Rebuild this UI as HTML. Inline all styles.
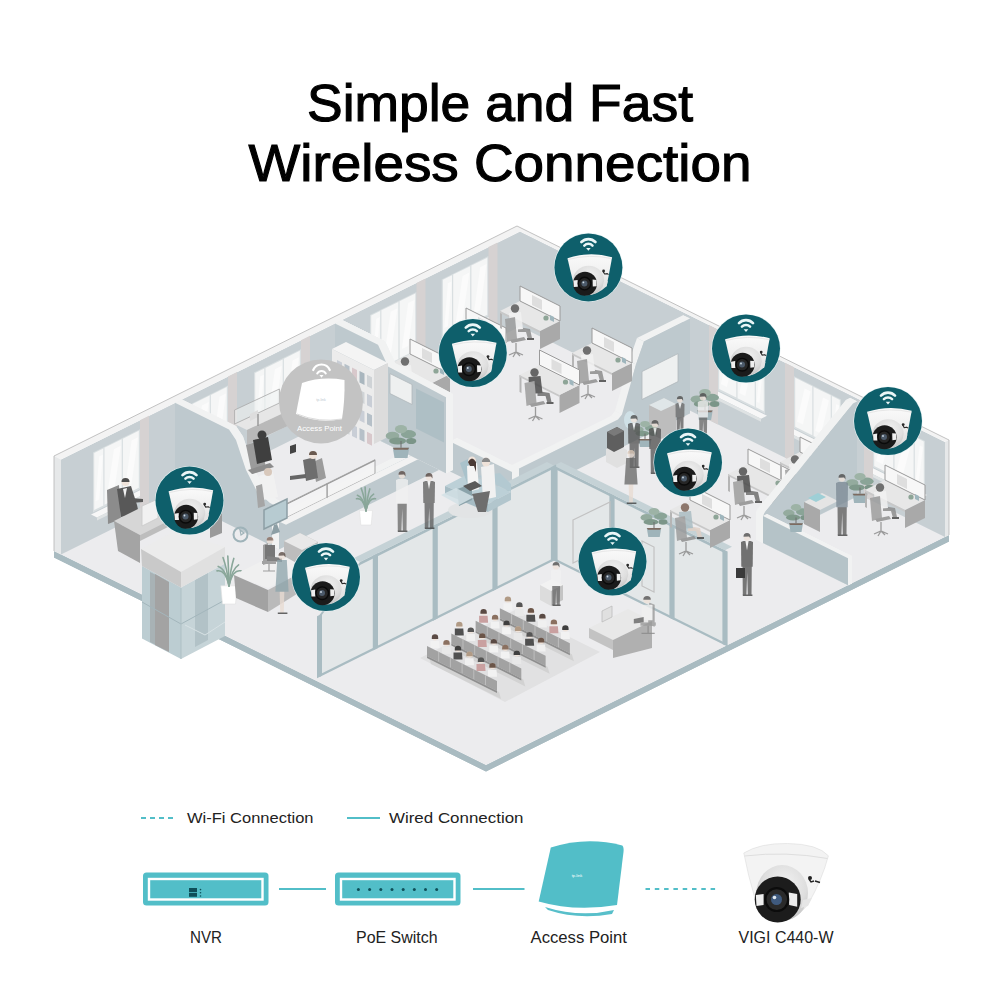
<!DOCTYPE html>
<html><head><meta charset="utf-8">
<style>
html,body{margin:0;padding:0;background:#fff;width:1000px;height:1000px;overflow:hidden;}
svg{display:block;}
</style></head>
<body>
<svg width="1000" height="1000" viewBox="0 0 1000 1000">
<defs>
<linearGradient id="domeg" x1="0" y1="0" x2="0" y2="1">
  <stop offset="0" stop-color="#fafafa"/>
  <stop offset="0.45" stop-color="#f0f0f0"/>
  <stop offset="1" stop-color="#d8d8d8"/>
</linearGradient>
<radialGradient id="recg" cx="0.55" cy="0.35" r="0.7">
  <stop offset="0" stop-color="#f2f2f2"/>
  <stop offset="0.6" stop-color="#dedede"/>
  <stop offset="1" stop-color="#bdbdbd"/>
</radialGradient>
<symbol id="cam" viewBox="-35 -35 70 70" overflow="visible">
  <circle r="34.6" fill="#e6f3f4"/>
  <circle r="34" fill="#0e5f6b"/>
  <path d="M -7,-25.4 A 9.8 9.8 0 0 1 7,-25.4" fill="none" stroke="#eaf6f7" stroke-width="2.7" stroke-linecap="round"/>
  <path d="M -4.1,-21.8 A 5.6 5.6 0 0 1 4.1,-21.8" fill="none" stroke="#eaf6f7" stroke-width="2.5" stroke-linecap="round"/>
  <path d="M -2.3,-19.3 L 2.3,-19.3 L 0,-16.6 Z" fill="#eaf6f7"/>
  <path d="M -20.9,-9.2 Q 1.3,-16.5 23.7,-10.2 Q 21,5 18.2,18.8 Q 8,28.5 -3.3,27.8 Q -11,24 -14.4,17.8 Q -18,4 -20.9,-9.2 Z" fill="url(#domeg)"/>
  <path d="M -20.6,-7.8 Q 1.3,-13.8 23.4,-8.8" fill="none" stroke="#e2e2e2" stroke-width="0.8"/>
  <ellipse cx="0.2" cy="12.8" rx="15.5" ry="14.5" fill="url(#recg)"/>
  <path d="M 15.4,14.5 L 19.5,13.5 L 18.2,18.8 L 14.5,19.5 Z" fill="#e4e4e4"/>
  <circle cx="-3.4" cy="16.3" r="12" fill="#1b1b1b"/>
  <path d="M -15,13.2 L -10.8,12.6 L -10.6,19.4 L -14.6,19.6 Z" fill="#efefef"/>
  <path d="M 4.2,12.2 L 8.2,12.6 L 8.2,18.8 L 4.4,19.2 Z" fill="#efefef"/>
  <circle cx="-3.8" cy="16.2" r="6.3" fill="#262626" stroke="#0a0a0a" stroke-width="1.4"/>
  <circle cx="-4" cy="16" r="3" fill="#4c5a6a"/>
  <circle cx="-5" cy="15" r="0.9" fill="#d0dce4"/>
  <circle cx="15.2" cy="3.6" r="1.4" fill="#2a2a2a"/>
  <path d="M 14.6,4 l 1.6,2.6 l 2.8,-0.4 m -0.6,0 l 1.8,0.8" fill="none" stroke="#2a2a2a" stroke-width="1.1"/>
</symbol>
</defs>
<rect width="1000" height="1000" fill="#fff"/>

<text x="500" y="121" text-anchor="middle" font-family="Liberation Sans, sans-serif" font-size="52" fill="#000" stroke="#000" stroke-width="1.1" textLength="386" lengthAdjust="spacingAndGlyphs">Simple and Fast</text>
<text x="500" y="181" text-anchor="middle" font-family="Liberation Sans, sans-serif" font-size="52" fill="#000" stroke="#000" stroke-width="1.1" textLength="503" lengthAdjust="spacingAndGlyphs">Wireless Connection</text>

<g id="building">
<polygon points="54.0,551.0 486.0,765.0 949.0,535.0 949.0,541.5 486.0,771.5 54.0,557.5" fill="#a9bbc1" />
<polygon points="486.0,765.0 949.0,535.0 949.0,541.5 486.0,771.5" fill="#a9bbc1" />
<polygon points="54.0,551.0 486.0,765.0 486.0,771.5 54.0,557.5" fill="#a9bbc1" />
<polygon points="54.0,551.0 517.0,321.0 949.0,535.0 486.0,765.0" fill="#ececee" />
<polygon points="61.0,554.5 520.0,326.5 520.0,231.5 61.0,459.5" fill="#c7cfd3" />
<polygon points="520.0,326.5 945.0,537.0 945.0,442.0 520.0,231.5" fill="#c7cfd3" />
<polygon points="54.0,456.0 517.0,226.0 524.0,229.5 61.0,459.5" fill="#f3f3f3" />
<polygon points="513.0,228.0 517.0,226.0 949.0,440.0 945.0,442.0" fill="#f3f3f3" />
<polygon points="54.0,551.0 61.0,554.5 61.0,459.5 54.0,456.0" fill="#e6e8e9" />
<polygon points="945.0,537.0 949.0,535.0 949.0,440.0 945.0,442.0" fill="#e6e8e9" />
<polygon points="93.0,512.6 140.0,489.2 140.0,429.2 93.0,452.6" fill="#d9dfe1" />
<polygon points="94.2,510.0 103.3,505.4 103.3,448.4 94.2,453.0" fill="#f5f6f6" />
<polygon points="95.6,501.3 99.2,499.5 102.9,454.7 99.2,456.5" fill="#fbfbfb" />
<polygon points="104.5,504.8 121.7,496.3 121.7,439.3 104.5,447.8" fill="#f5f6f6" />
<polygon points="107.1,495.6 114.0,492.2 120.8,445.8 114.0,449.2" fill="#fbfbfb" />
<polygon points="122.9,495.7 138.8,487.8 138.8,430.8 122.9,438.7" fill="#f5f6f6" />
<polygon points="125.3,486.5 131.6,483.4 138.0,437.2 131.6,440.4" fill="#fbfbfb" />
<polygon points="91.0,514.6 142.0,489.2 148.0,492.2 97.0,517.5" fill="#f7f7f7" />
<polygon points="97.0,517.5 148.0,492.2 148.0,495.2 97.0,520.5" fill="#dfe3e4" />
<polygon points="140.0,515.2 149.0,510.8 149.0,415.8 140.0,420.2" fill="#d6d2d2" />
<polygon points="181.0,468.9 228.0,445.5 228.0,385.5 181.0,408.9" fill="#d9dfe1" />
<polygon points="182.2,466.3 191.3,461.7 191.3,404.7 182.2,409.3" fill="#f5f6f6" />
<polygon points="183.6,457.6 187.2,455.8 190.9,410.9 187.2,412.8" fill="#fbfbfb" />
<polygon points="192.5,461.1 209.7,452.6 209.7,395.6 192.5,404.1" fill="#f5f6f6" />
<polygon points="195.1,451.8 202.0,448.4 208.8,402.0 202.0,405.4" fill="#fbfbfb" />
<polygon points="210.9,452.0 226.8,444.1 226.8,387.1 210.9,395.0" fill="#f5f6f6" />
<polygon points="213.3,442.8 219.6,439.7 226.0,393.5 219.6,396.7" fill="#fbfbfb" />
<polygon points="179.0,470.9 230.0,445.5 236.0,448.5 185.0,473.8" fill="#f7f7f7" />
<polygon points="185.0,473.8 236.0,448.5 236.0,451.5 185.0,476.8" fill="#dfe3e4" />
<polygon points="228.0,471.5 237.0,467.0 237.0,372.0 228.0,376.5" fill="#d6d2d2" />
<polygon points="254.0,432.6 301.0,409.2 301.0,349.2 254.0,372.6" fill="#d9dfe1" />
<polygon points="255.2,430.0 264.3,425.5 264.3,368.5 255.2,373.0" fill="#f5f6f6" />
<polygon points="256.6,421.3 260.2,419.5 263.9,374.7 260.2,376.5" fill="#fbfbfb" />
<polygon points="265.5,424.9 282.7,416.4 282.7,359.4 265.5,367.9" fill="#f5f6f6" />
<polygon points="268.1,415.6 275.0,412.2 281.8,365.8 275.0,369.2" fill="#fbfbfb" />
<polygon points="283.9,415.8 299.8,407.8 299.8,350.8 283.9,358.8" fill="#f5f6f6" />
<polygon points="286.3,406.6 292.6,403.4 299.0,357.2 292.6,360.4" fill="#fbfbfb" />
<polygon points="252.0,434.6 303.0,409.3 309.0,412.2 258.0,437.6" fill="#f7f7f7" />
<polygon points="258.0,437.6 309.0,412.2 309.0,415.2 258.0,440.6" fill="#dfe3e4" />
<polygon points="301.0,435.2 310.0,430.8 310.0,335.8 301.0,340.2" fill="#d6d2d2" />
<polygon points="370.0,375.0 416.5,351.9 416.5,291.9 370.0,315.0" fill="#d9dfe1" />
<polygon points="371.2,372.4 380.2,367.9 380.2,310.9 371.2,315.4" fill="#f5f6f6" />
<polygon points="372.6,363.7 376.2,361.9 379.8,317.1 376.2,318.9" fill="#fbfbfb" />
<polygon points="381.4,367.3 398.4,358.9 398.4,301.9 381.4,310.3" fill="#f5f6f6" />
<polygon points="384.0,358.0 390.7,354.7 397.5,308.3 390.7,311.7" fill="#fbfbfb" />
<polygon points="399.6,358.3 415.3,350.5 415.3,293.5 399.6,301.3" fill="#f5f6f6" />
<polygon points="401.9,349.1 408.2,346.0 414.5,299.9 408.2,303.0" fill="#fbfbfb" />
<polygon points="368.0,377.0 418.5,351.9 424.5,354.9 374.0,379.9" fill="#f7f7f7" />
<polygon points="374.0,379.9 424.5,354.9 424.5,357.9 374.0,382.9" fill="#dfe3e4" />
<polygon points="416.5,377.9 425.5,373.4 425.5,278.4 416.5,282.9" fill="#d6d2d2" />
<polygon points="441.7,339.4 488.5,316.1 488.5,256.1 441.7,279.4" fill="#d9dfe1" />
<polygon points="442.9,336.8 452.0,332.2 452.0,275.2 442.9,279.8" fill="#f5f6f6" />
<polygon points="444.3,328.1 447.9,326.3 451.5,281.5 447.9,283.3" fill="#fbfbfb" />
<polygon points="453.2,331.6 470.2,323.2 470.2,266.2 453.2,274.6" fill="#f5f6f6" />
<polygon points="455.8,322.4 462.6,319.0 469.4,272.6 462.6,276.0" fill="#fbfbfb" />
<polygon points="471.4,322.6 487.3,314.7 487.3,257.7 471.4,265.6" fill="#f5f6f6" />
<polygon points="473.8,313.4 480.2,310.2 486.5,264.1 480.2,267.2" fill="#fbfbfb" />
<polygon points="439.7,341.3 490.5,316.1 496.5,319.1 445.7,344.3" fill="#f7f7f7" />
<polygon points="445.7,344.3 496.5,319.1 496.5,322.1 445.7,347.3" fill="#dfe3e4" />
<polygon points="488.5,342.1 497.5,337.6 497.5,242.6 488.5,247.1" fill="#d6d2d2" />
<polygon points="718.0,390.5 765.0,413.8 765.0,361.8 718.0,338.5" fill="#d9dfe1" />
<polygon points="719.2,389.1 736.3,397.6 736.3,348.6 719.2,340.1" fill="#f5f6f6" />
<polygon points="720.9,384.0 726.9,387.0 734.6,353.8 728.6,350.8" fill="#fbfbfb" />
<polygon points="737.5,398.2 754.7,406.7 754.7,357.7 737.5,349.2" fill="#f5f6f6" />
<polygon points="739.2,393.1 745.2,396.0 752.9,362.8 747.0,359.9" fill="#fbfbfb" />
<polygon points="755.9,407.3 763.8,411.2 763.8,362.2 755.9,358.3" fill="#f5f6f6" />
<polygon points="756.7,401.7 759.4,403.1 763.0,367.8 760.2,366.5" fill="#fbfbfb" />
<polygon points="716.0,390.5 767.0,415.8 761.0,418.8 710.0,393.5" fill="#f7f7f7" />
<polygon points="710.0,393.5 761.0,418.8 761.0,421.8 710.0,396.5" fill="#dfe3e4" />
<polygon points="709.0,420.1 718.0,424.5 718.0,329.5 709.0,325.1" fill="#d6d2d2" />
<polygon points="794.0,428.2 841.0,451.5 841.0,399.5 794.0,376.2" fill="#d9dfe1" />
<polygon points="795.2,426.8 812.3,435.3 812.3,386.3 795.2,377.8" fill="#f5f6f6" />
<polygon points="796.9,421.6 802.9,424.6 810.6,391.4 804.6,388.4" fill="#fbfbfb" />
<polygon points="813.5,435.9 830.7,444.3 830.7,395.3 813.5,386.9" fill="#f5f6f6" />
<polygon points="815.2,430.7 821.2,433.7 828.9,400.5 823.0,397.5" fill="#fbfbfb" />
<polygon points="831.9,444.9 839.8,448.9 839.8,399.9 831.9,395.9" fill="#f5f6f6" />
<polygon points="832.7,439.3 835.4,440.7 839.0,405.5 836.2,404.1" fill="#fbfbfb" />
<polygon points="792.0,428.2 843.0,453.5 837.0,456.4 786.0,431.2" fill="#f7f7f7" />
<polygon points="786.0,431.2 837.0,456.4 837.0,459.4 786.0,434.2" fill="#dfe3e4" />
<polygon points="785.0,457.7 794.0,462.2 794.0,367.2 785.0,362.7" fill="#d6d2d2" />
<polygon points="873.0,467.3 925.0,493.1 925.0,441.1 873.0,415.3" fill="#d9dfe1" />
<polygon points="874.2,465.9 893.3,475.4 893.3,426.4 874.2,416.9" fill="#f5f6f6" />
<polygon points="876.1,460.9 882.8,464.2 891.4,431.4 884.7,428.1" fill="#fbfbfb" />
<polygon points="894.5,476.0 913.6,485.4 913.6,436.4 894.5,427.0" fill="#f5f6f6" />
<polygon points="896.4,470.9 903.1,474.2 911.7,441.5 905.0,438.2" fill="#fbfbfb" />
<polygon points="914.8,486.0 923.8,490.5 923.8,441.5 914.8,437.0" fill="#f5f6f6" />
<polygon points="915.7,480.5 918.8,482.0 922.9,447.0 919.7,445.5" fill="#fbfbfb" />
<polygon points="871.0,467.3 927.0,495.1 921.0,498.0 865.0,470.3" fill="#f7f7f7" />
<polygon points="865.0,470.3 921.0,498.0 921.0,501.0 865.0,473.3" fill="#dfe3e4" />
<polygon points="864.0,496.9 873.0,501.3 873.0,406.3 864.0,401.9" fill="#d6d2d2" />
<polygon points="182.0,494.4 182.0,399.4 236.0,426.1 243.0,436.6 253.0,466.5 264.0,488.0 277.0,499.4 286.0,503.9 286.0,545.9" fill="#f1f2f2" />
<polygon points="175.0,497.8 175.0,402.8 182.0,399.4 182.0,494.4" fill="#f1f2f2" />
<polygon points="175.0,402.8 229.0,429.6 236.0,426.1 182.0,399.4" fill="#f1f2f2" />
<polygon points="229.0,429.6 236.0,440.1 243.0,436.6 236.0,426.1" fill="#f1f2f2" />
<polygon points="236.0,440.1 246.0,470.0 253.0,466.5 243.0,436.6" fill="#f1f2f2" />
<polygon points="246.0,470.0 257.0,491.5 264.0,488.0 253.0,466.5" fill="#f1f2f2" />
<polygon points="257.0,491.5 270.0,502.9 277.0,499.4 264.0,488.0" fill="#f1f2f2" />
<polygon points="270.0,502.9 279.0,507.4 286.0,503.9 277.0,499.4" fill="#f1f2f2" />
<polygon points="279.0,507.4 279.0,549.4 286.0,545.9 286.0,503.9" fill="#f1f2f2" />
<polygon points="279.0,549.4 175.0,497.8 182.0,494.4 286.0,545.9" fill="#f1f2f2" />
<polygon points="175.0,497.8 175.0,402.8 229.0,429.6 236.0,440.1 246.0,470.0 257.0,491.5 270.0,502.9 279.0,507.4 279.0,549.4" fill="#bec9ce" />
<polygon points="342.0,414.9 342.0,319.9 385.0,341.2 395.0,363.1 453.0,393.9 453.0,469.9" fill="#f1f2f2" />
<polygon points="335.0,418.4 335.0,323.4 342.0,319.9 342.0,414.9" fill="#f1f2f2" />
<polygon points="335.0,323.4 378.0,344.7 385.0,341.2 342.0,319.9" fill="#f1f2f2" />
<polygon points="378.0,344.7 388.0,366.6 395.0,363.1 385.0,341.2" fill="#f1f2f2" />
<polygon points="388.0,366.6 446.0,397.3 453.0,393.9 395.0,363.1" fill="#f1f2f2" />
<polygon points="446.0,397.3 446.0,473.3 453.0,469.9 453.0,393.9" fill="#f1f2f2" />
<polygon points="446.0,473.3 335.0,418.4 342.0,414.9 453.0,469.9" fill="#f1f2f2" />
<polygon points="335.0,418.4 335.0,323.4 378.0,344.7 388.0,366.6 446.0,397.3 446.0,473.3" fill="#bec9ce" />
<polygon points="390.0,373.6 412.0,384.5 412.0,404.5 390.0,393.6" fill="#eef0f0" stroke="#b0b8bb" stroke-width="0.8"/>
<polygon points="416.0,388.5 444.0,402.4 444.0,442.4 416.0,428.5" fill="#aebfc5" />
<polygon points="690.0,413.6 690.0,318.6 683.0,315.2 683.0,410.2" fill="#f1f2f2" />
<polygon points="690.0,318.6 644.0,341.5 637.0,338.0 683.0,315.2" fill="#f1f2f2" />
<polygon points="644.0,341.5 636.0,364.5 629.0,361.0 637.0,338.0" fill="#f1f2f2" />
<polygon points="636.0,364.5 622.0,414.4 615.0,411.0 629.0,361.0" fill="#f1f2f2" />
<polygon points="622.0,414.4 618.0,419.4 611.0,415.9 615.0,411.0" fill="#f1f2f2" />
<polygon points="618.0,419.4 512.0,472.1 505.0,468.6 611.0,415.9" fill="#f1f2f2" />
<polygon points="512.0,472.1 512.0,502.1 505.0,498.6 505.0,468.6" fill="#f1f2f2" />
<polygon points="512.0,502.1 690.0,413.6 683.0,410.2 505.0,498.6" fill="#f1f2f2" />
<polygon points="690.0,413.6 690.0,318.6 644.0,341.5 636.0,364.5 622.0,414.4 618.0,419.4 512.0,472.1 512.0,502.1" fill="#bec9ce" />
<polygon points="642.0,371.5 678.0,353.6 678.0,381.6 642.0,399.5" fill="#eef0f0" stroke="#b0b8bb" stroke-width="0.8"/>
<polygon points="457.0,467.9 457.0,437.9 519.0,468.6 519.0,498.6" fill="#f1f2f2" />
<polygon points="450.0,471.4 450.0,441.4 457.0,437.9 457.0,467.9" fill="#f1f2f2" />
<polygon points="450.0,441.4 512.0,472.1 519.0,468.6 457.0,437.9" fill="#f1f2f2" />
<polygon points="512.0,472.1 512.0,502.1 519.0,498.6 519.0,468.6" fill="#f1f2f2" />
<polygon points="512.0,502.1 450.0,471.4 457.0,467.9 519.0,498.6" fill="#f1f2f2" />
<polygon points="450.0,471.4 450.0,441.4 512.0,472.1 512.0,502.1" fill="#bec9ce" />
<polygon points="279.0,549.4 279.0,521.4 272.0,517.9 272.0,545.9" fill="#f1f2f2" />
<polygon points="279.0,521.4 443.0,439.9 436.0,436.4 272.0,517.9" fill="#f1f2f2" />
<polygon points="443.0,439.9 443.0,467.9 436.0,464.4 436.0,436.4" fill="#f1f2f2" />
<polygon points="443.0,467.9 279.0,549.4 272.0,545.9 436.0,464.4" fill="#f1f2f2" />
<polygon points="279.0,549.4 279.0,521.4 443.0,439.9 443.0,467.9" fill="#bec9ce" />
<polygon points="857.0,496.4 857.0,401.4 850.0,397.9 850.0,492.9" fill="#f1f2f2" />
<polygon points="857.0,401.4 853.0,403.4 846.0,399.9 850.0,397.9" fill="#f1f2f2" />
<polygon points="853.0,403.4 765.0,512.1 758.0,508.6 846.0,399.9" fill="#f1f2f2" />
<polygon points="765.0,512.1 763.0,516.1 756.0,512.6 758.0,508.6" fill="#f1f2f2" />
<polygon points="763.0,516.1 763.0,543.1 756.0,539.6 756.0,512.6" fill="#f1f2f2" />
<polygon points="763.0,543.1 857.0,496.4 850.0,492.9 756.0,539.6" fill="#f1f2f2" />
<polygon points="857.0,496.4 857.0,401.4 853.0,403.4 765.0,512.1 763.0,516.1 763.0,543.1" fill="#bec9ce" />
<polygon points="767.0,541.1 767.0,514.1 852.0,556.2 852.0,583.2" fill="#f1f2f2" />
<polygon points="763.0,543.1 763.0,516.1 767.0,514.1 767.0,541.1" fill="#f1f2f2" />
<polygon points="763.0,516.1 848.0,558.2 852.0,556.2 767.0,514.1" fill="#f1f2f2" />
<polygon points="848.0,558.2 848.0,585.2 852.0,583.2 852.0,556.2" fill="#f1f2f2" />
<polygon points="848.0,585.2 763.0,543.1 767.0,541.1 852.0,583.2" fill="#f1f2f2" />
<polygon points="763.0,543.1 763.0,516.1 848.0,558.2 848.0,585.2" fill="#b5c3c8" />
<polygon points="554.0,560.6 725.0,645.3 725.0,550.3 554.0,465.6" fill="#e3e7e8" />
<polygon points="552.4,559.8 557.6,562.4 557.6,467.4 552.4,464.8" fill="#a9bcc2" />
<polygon points="609.4,588.0 614.6,590.6 614.6,495.6 609.4,493.0" fill="#a9bcc2" />
<polygon points="669.4,617.7 674.6,620.3 674.6,525.3 669.4,522.7" fill="#a9bcc2" />
<polygon points="722.4,644.0 727.6,646.6 727.6,551.6 722.4,549.0" fill="#a9bcc2" />
<polygon points="554.0,465.6 725.0,550.3 725.0,553.3 554.0,468.6" fill="#a9bcc2" />
<polygon points="554.0,465.6 561.0,462.1 732.0,546.8 725.0,550.3" fill="#c5d2d6" />
<polygon points="554.0,560.6 725.0,645.3 725.0,642.8 554.0,558.1" fill="#a9bcc2" />
<polygon points="319.5,677.1 554.0,560.6 554.0,465.6 360.0,561.9 319.5,615.1" fill="#e3e7e8" />
<polygon points="372.8,650.6 378.0,648.0 378.0,553.0 372.8,555.6" fill="#a9bcc2" />
<polygon points="432.6,620.9 437.8,618.3 437.8,523.3 432.6,525.9" fill="#a9bcc2" />
<polygon points="492.4,591.2 497.6,588.6 497.6,493.6 492.4,496.2" fill="#a9bcc2" />
<polygon points="550.9,562.1 556.1,559.5 556.1,464.5 550.9,467.1" fill="#a9bcc2" />
<polygon points="317.0,678.3 322.0,675.8 322.0,613.8 317.0,616.3" fill="#a9bcc2" />
<polygon points="360.0,561.9 554.0,465.6 554.0,468.6 360.0,564.9" fill="#a9bcc2" />
<polygon points="360.0,561.9 554.0,465.6 547.0,462.1 353.0,558.5" fill="#c5d2d6" />
<polygon points="319.5,615.1 360.0,561.9 360.0,564.9 319.5,618.1" fill="#a9bcc2" />
<polygon points="319.5,677.1 554.0,560.6 554.0,558.1 319.5,674.6" fill="#a9bcc2" />

<polygon points="142,566 181,587.5 181,659 142,638.5" fill="#bccdd2"/>
<polygon points="181,587.5 225,563.5 225,636 181,659" fill="#c6d4d8"/>
<polygon points="150,572 160,577 160,647 150,642" fill="#a8b2b5"/>
<polygon points="155,574 169,582 169,652 155,645" fill="#a3a3a3"/>
<polygon points="195,580 208,573 208,640 195,647" fill="#b2c2c7"/>
<polyline points="142,602 181,624 225,600" fill="none" stroke="#a3b6bc" stroke-width="1"/>
<polyline points="185,625 205,635 225,622" fill="none" stroke="#d8e2e5" stroke-width="1"/>
<line x1="181" y1="588" x2="181" y2="659" stroke="#aebfc4" stroke-width="1"/>
<polygon points="141,549 175,531 225,547 181,572" fill="#ececec"/>
<polygon points="141,549 181,572 181,587.5 142,566" fill="#c9c9c9"/>
<polygon points="181,572 225,547 225,563.5 181,587.5" fill="#e0e0e0"/>

<polygon points="107.0,490.0 119.0,485.0 121.0,519.0 108.0,524.0" fill="#8c8c8c" />
<polygon points="117.0,489.0 131.0,486.0 137.0,505.0 139.0,514.0 121.0,517.0" fill="#585858" />
<polygon points="123.0,489.0 127.0,488.0 125.0,498.0" fill="#f2f2f2" />
<polygon points="131.0,498.0 143.0,499.0 143.0,502.0 131.0,503.0" fill="#585858" />
<circle cx="125.5" cy="482.0" r="4.0" fill="#efe3da" />
<path d="M 121.5,482 a 4 4 0 0 1 8,0 z" fill="#4e4e4e"/>
<polygon points="114.0,521.0 150.0,503.0 178.0,516.0 140.0,535.0" fill="#d6d6d6" />
<polygon points="114.0,521.0 140.0,535.0 140.0,563.0 118.0,551.0" fill="#a4a4a4" />
<polygon points="140.0,535.0 178.0,516.0 178.0,522.0 140.0,541.0" fill="#bdbdbd" />
<polygon points="142.0,506.0 158.0,499.0 158.0,518.0 142.0,526.0" fill="#f1f1f1" stroke="#c9c9c9" stroke-width="0.8"/>
<polygon points="210.0,518.0 222.0,512.0 222.0,533.0 210.0,538.0" fill="#9a9a9a" />
<circle cx="240.5" cy="534.5" r="7.0" fill="none" stroke="#9fb3b9" stroke-width="2"/>
<polygon points="240.0,530.0 241.0,535.0 244.0,533.0" fill="none" stroke="#9fb3b9" stroke-width="1.2"/>
<polygon points="220.8,585.8 237.2,585.8 235.5,604.0 222.5,604.0" fill="#ffffff" stroke="#e0e0e0" stroke-width="0.6"/>
<path d="M 229.0,585.8 Q 225.8,569.0 218.2,566.4" stroke="#8aa79a" stroke-width="1.6" fill="none" stroke-linecap="round"/>
<path d="M 229.0,585.8 Q 227.2,569.0 223.0,557.5" stroke="#8aa79a" stroke-width="1.6" fill="none" stroke-linecap="round"/>
<path d="M 229.0,585.8 Q 228.6,569.0 227.8,556.0" stroke="#8aa79a" stroke-width="1.6" fill="none" stroke-linecap="round"/>
<path d="M 229.0,585.8 Q 230.4,569.0 233.8,558.4" stroke="#8aa79a" stroke-width="1.6" fill="none" stroke-linecap="round"/>
<path d="M 229.0,585.8 Q 231.9,569.0 238.6,564.9" stroke="#8aa79a" stroke-width="1.6" fill="none" stroke-linecap="round"/>
<path d="M 229.0,585.8 Q 225.4,569.0 217.0,570.9" stroke="#8aa79a" stroke-width="1.6" fill="none" stroke-linecap="round"/>
<path d="M 229.0,585.8 Q 232.6,569.0 241.0,570.9" stroke="#8aa79a" stroke-width="1.6" fill="none" stroke-linecap="round"/>
<polygon points="234.0,575.0 280.0,552.0 300.0,562.0 300.0,572.0 268.0,588.0" fill="#f0f0f0" />
<polygon points="234.0,575.0 268.0,590.0 268.0,612.0 236.0,598.0" fill="#a2a2a2" />
<polygon points="268.0,590.0 300.0,573.0 300.0,592.0 268.0,612.0" fill="#bababa" />
<polygon points="284.0,541.0 300.0,533.0 318.0,542.0 318.0,556.0 300.0,565.0 284.0,556.0" fill="#bdbdbd" />
<polygon points="284.0,541.0 300.0,533.0 318.0,542.0 302.0,550.0" fill="#e8e8e8" />
<g opacity="0.8">
<polygon points="263.0,545.0 268.0,543.0 269.0,563.0 263.0,565.0" fill="#8f8f8f" />
<polygon points="265.0,545.0 275.0,545.0 275.0,559.0 265.0,559.0" fill="#5a5a5a" />
<polygon points="267.0,556.0 282.0,558.0 282.0,562.0 267.0,561.0" fill="#666" />
<polygon points="262.0,561.0 276.0,561.0 276.0,564.0 262.0,564.0" fill="#8f8f8f" />
<path d="M 269.0,564.0 v 7.0 m -6.0,0 h 12.0" stroke="#8a8a8a" stroke-width="1.2" fill="none"/>
<circle cx="270.0" cy="540.4" r="3.4" fill="#efe3da" />
<path d="M 266.6,540.4 a 3.4 3.4 0 0 1 6.8,0 z" fill="#8a6e62"/>
</g>
<g opacity="0.78">
<polygon points="279.5,584.2 284.5,584.2 283.8,613.0 280.2,613.0" fill="#e9dcd3" />
<polygon points="277.2,559.9 286.8,559.9 288.6,591.7 275.4,591.7" fill="#8fa6ad" />
<polygon points="277.8,612.5 287.4,612.5 287.4,614.0 277.8,614.0" fill="#3e3e3e" />
<ellipse cx="282.0" cy="556.0" rx="3.3" ry="3.7" fill="#efe3da"/>
<path d="M 278.5,555.7 a 3.5 3.7 0 0 1 7.0,0 l 0,1.9 l -1.5,-2.2 z" fill="#5a4a44"/>
</g>
<polygon points="234.6,424.0 279.4,403.0 292.0,409.0 247.0,430.0" fill="#e6e6e6" />
<polygon points="247.0,430.0 292.0,409.0 292.0,424.0 247.0,445.0" fill="#b9b9b9" />
<polygon points="234.6,424.0 279.4,403.0 279.4,389.0 234.6,410.0" fill="#eef1f2" stroke="#a8a8a8" stroke-width="0.8" fill-opacity="0.6"/>
<polygon points="250.0,414.0 258.0,410.0 258.0,417.0 250.0,421.0" fill="#dddddd" />
<path d="M 258,426 v -12" stroke="#9a9a9a" stroke-width="1.5"/>
<polygon points="246.0,445.0 262.0,440.0 266.0,470.0 252.0,474.0" fill="#9b9b9b" />
<polygon points="253.0,440.0 268.0,437.0 272.0,460.0 257.0,464.0" fill="#3f3f3f" />
<circle cx="262.0" cy="435.0" r="4.5" fill="#3f3f3f" />
<polygon points="248.0,470.0 270.0,463.0 274.0,467.0 252.0,474.0" fill="#8c8c8c" />
<polygon points="313.0,462.0 322.0,458.0 326.0,478.0 316.0,482.0" fill="#9b9b9b" />
<polygon points="303.0,460.0 315.0,457.0 318.0,478.0 306.0,481.0" fill="#6e6e6e" />
<circle cx="313.0" cy="455.0" r="4.0" fill="#efe3da" />
<path d="M 309,455 a 4 4 0 0 1 8,0 z" fill="#6a5a50"/>
<polygon points="290.0,476.0 306.0,474.0 306.0,478.0 290.0,480.0" fill="#666" />
<polygon points="259.0,476.0 273.0,472.0 278.0,497.0 263.0,500.0" fill="#f1f1f1" />
<circle cx="268.0" cy="472.0" r="4.0" fill="#d8c8bb" />
<polygon points="256.0,486.0 262.0,484.0 265.0,506.0 258.0,508.0" fill="#a5a5a5" />
<polygon points="290.0,446.0 296.0,444.0 296.0,452.0 290.0,454.0" fill="#444" />
<polygon points="279.0,521.4 375.0,473.7 375.0,459.7 279.0,507.4" fill="#f4f4f4" stroke="#9d9d9d" stroke-width="0.9" fill-opacity="0.85"/>
<polygon points="279.0,521.4 443.0,439.9 450.0,443.4 286.0,524.8" fill="#f2f2f2" />
<polygon points="279.0,507.4 375.0,459.7 375.0,460.9 279.0,508.6" fill="#9a9a9a" />
<polygon points="327.0,497.5 327.2,497.6 327.2,483.6 327.0,483.5" fill="#f4f4f4" stroke="#9d9d9d" stroke-width="0.9" fill-opacity="0.85"/>
<polygon points="264.0,510.0 287.0,499.0 287.0,518.0 264.0,529.0" fill="#b7cbd1" stroke="#8d9fa5" stroke-width="1.5"/>
<polygon points="274.0,525.0 277.0,524.0 280.0,532.0 271.0,535.0" fill="#8d9fa5" />
<polygon points="430.0,384.0 450.0,374.0 450.0,392.0 430.0,402.0" fill="#a9a9a9" />
<polygon points="390.0,364.0 392.0,365.0 392.0,382.0 390.0,381.0" fill="#b5b5b5" />
<polygon points="410.0,354.0 450.0,374.0 430.0,384.0 390.0,364.0" fill="#e7e7e7" />
<polygon points="390.0,364.0 430.0,384.0 430.0,386.0 390.0,366.0" fill="#c8c8c8" />
<polygon points="410.0,354.0 450.0,374.0 450.0,359.0 410.0,339.0" fill="#f7f7f7" stroke="#9a9a9a" stroke-width="1"/>
<polygon points="422.0,358.0 432.0,363.0 432.0,353.0 422.0,348.0" fill="#dedede" />
<polygon points="440.0,368.0 444.0,370.0 444.0,375.0 440.0,373.0" fill="#9fb6bd" />
<circle cx="436.0" cy="371.0" r="2.6" fill="#8ea597" />
<g opacity="0.82">
<polygon points="408.0,380.0 420.0,382.0 422.0,391.0 418.0,392.0 416.0,385.0 408.0,385.0" fill="#8a8a8a" />
<polygon points="417.0,391.0 424.0,391.0 424.0,393.0 417.0,393.0" fill="#444" />
<polygon points="399.0,366.0 411.0,365.0 413.0,382.0 400.0,383.0" fill="#f2f2f2" />
<circle cx="405.0" cy="361.5" r="4.2" fill="#555555" />
<polygon points="395.0,372.0 405.0,370.0 407.0,392.0 397.0,395.0" fill="#9b9b9b" />
<polygon points="400.0,393.0 414.0,390.0 416.0,393.0 402.0,396.0" fill="#8c8c8c" />
<path d="M 406.0,396.0 v 9 m -7,3 l 7,-3 l 7,3 m -7,-3 l -3,5 m 3,-5 l 4,4" stroke="#8a8a8a" stroke-width="1.3" fill="none"/>
</g>
<polygon points="486.0,353.0 506.0,343.0 506.0,361.0 486.0,371.0" fill="#a9a9a9" />
<polygon points="446.0,333.0 448.0,334.0 448.0,351.0 446.0,350.0" fill="#b5b5b5" />
<polygon points="466.0,323.0 506.0,343.0 486.0,353.0 446.0,333.0" fill="#e7e7e7" />
<polygon points="446.0,333.0 486.0,353.0 486.0,355.0 446.0,335.0" fill="#c8c8c8" />
<polygon points="466.0,323.0 506.0,343.0 506.0,328.0 466.0,308.0" fill="#f7f7f7" stroke="#9a9a9a" stroke-width="1"/>
<polygon points="478.0,327.0 488.0,332.0 488.0,322.0 478.0,317.0" fill="#dedede" />
<polygon points="496.0,337.0 500.0,339.0 500.0,344.0 496.0,342.0" fill="#9fb6bd" />
<circle cx="492.0" cy="340.0" r="2.6" fill="#8ea597" />
<polygon points="540.0,331.0 560.0,321.0 560.0,339.0 540.0,349.0" fill="#a9a9a9" />
<polygon points="500.0,311.0 502.0,312.0 502.0,329.0 500.0,328.0" fill="#b5b5b5" />
<polygon points="520.0,301.0 560.0,321.0 540.0,331.0 500.0,311.0" fill="#e7e7e7" />
<polygon points="500.0,311.0 540.0,331.0 540.0,333.0 500.0,313.0" fill="#c8c8c8" />
<polygon points="520.0,301.0 560.0,321.0 560.0,306.0 520.0,286.0" fill="#f7f7f7" stroke="#9a9a9a" stroke-width="1"/>
<polygon points="532.0,305.0 542.0,310.0 542.0,300.0 532.0,295.0" fill="#dedede" />
<polygon points="550.0,315.0 554.0,317.0 554.0,322.0 550.0,320.0" fill="#9fb6bd" />
<circle cx="546.0" cy="318.0" r="2.6" fill="#8ea597" />
<g opacity="0.82">
<polygon points="518.0,327.0 530.0,329.0 532.0,338.0 528.0,339.0 526.0,332.0 518.0,332.0" fill="#8a8a8a" />
<polygon points="527.0,338.0 534.0,338.0 534.0,340.0 527.0,340.0" fill="#444" />
<polygon points="509.0,313.0 521.0,312.0 523.0,329.0 510.0,330.0" fill="#f2f2f2" />
<circle cx="515.0" cy="308.5" r="4.2" fill="#555555" />
<polygon points="505.0,319.0 515.0,317.0 517.0,339.0 507.0,342.0" fill="#9b9b9b" />
<polygon points="510.0,340.0 524.0,337.0 526.0,340.0 512.0,343.0" fill="#8c8c8c" />
<path d="M 516.0,343.0 v 9 m -7,3 l 7,-3 l 7,3 m -7,-3 l -3,5 m 3,-5 l 4,4" stroke="#8a8a8a" stroke-width="1.3" fill="none"/>
</g>
<polygon points="612.0,373.0 632.0,363.0 632.0,381.0 612.0,391.0" fill="#a9a9a9" />
<polygon points="572.0,353.0 574.0,354.0 574.0,371.0 572.0,370.0" fill="#b5b5b5" />
<polygon points="592.0,343.0 632.0,363.0 612.0,373.0 572.0,353.0" fill="#e7e7e7" />
<polygon points="572.0,353.0 612.0,373.0 612.0,375.0 572.0,355.0" fill="#c8c8c8" />
<polygon points="592.0,343.0 632.0,363.0 632.0,348.0 592.0,328.0" fill="#f7f7f7" stroke="#9a9a9a" stroke-width="1"/>
<polygon points="604.0,347.0 614.0,352.0 614.0,342.0 604.0,337.0" fill="#dedede" />
<polygon points="622.0,357.0 626.0,359.0 626.0,364.0 622.0,362.0" fill="#9fb6bd" />
<circle cx="618.0" cy="360.0" r="2.6" fill="#8ea597" />
<g opacity="0.82">
<polygon points="590.0,369.0 602.0,371.0 604.0,380.0 600.0,381.0 598.0,374.0 590.0,374.0" fill="#8a8a8a" />
<polygon points="599.0,380.0 606.0,380.0 606.0,382.0 599.0,382.0" fill="#444" />
<polygon points="581.0,355.0 593.0,354.0 595.0,371.0 582.0,372.0" fill="#f2f2f2" />
<circle cx="587.0" cy="350.5" r="4.2" fill="#555555" />
<polygon points="577.0,361.0 587.0,359.0 589.0,381.0 579.0,384.0" fill="#9b9b9b" />
<polygon points="582.0,382.0 596.0,379.0 598.0,382.0 584.0,385.0" fill="#8c8c8c" />
<path d="M 588.0,385.0 v 9 m -7,3 l 7,-3 l 7,3 m -7,-3 l -3,5 m 3,-5 l 4,4" stroke="#8a8a8a" stroke-width="1.3" fill="none"/>
</g>
<polygon points="559.5,395.0 579.5,385.0 579.5,403.0 559.5,413.0" fill="#a9a9a9" />
<polygon points="519.5,375.0 521.5,376.0 521.5,393.0 519.5,392.0" fill="#b5b5b5" />
<polygon points="539.5,365.0 579.5,385.0 559.5,395.0 519.5,375.0" fill="#e7e7e7" />
<polygon points="519.5,375.0 559.5,395.0 559.5,397.0 519.5,377.0" fill="#c8c8c8" />
<polygon points="539.5,365.0 579.5,385.0 579.5,370.0 539.5,350.0" fill="#f7f7f7" stroke="#9a9a9a" stroke-width="1"/>
<polygon points="551.5,369.0 561.5,374.0 561.5,364.0 551.5,359.0" fill="#dedede" />
<polygon points="569.5,379.0 573.5,381.0 573.5,386.0 569.5,384.0" fill="#9fb6bd" />
<circle cx="565.5" cy="382.0" r="2.6" fill="#8ea597" />
<g opacity="0.82">
<polygon points="537.5,391.0 549.5,393.0 551.5,402.0 547.5,403.0 545.5,396.0 537.5,396.0" fill="#6a6a6a" />
<polygon points="546.5,402.0 553.5,402.0 553.5,404.0 546.5,404.0" fill="#444" />
<polygon points="528.5,377.0 540.5,376.0 542.5,393.0 529.5,394.0" fill="#444444" />
<circle cx="534.5" cy="372.5" r="4.2" fill="#4a4a4a" />
<polygon points="524.5,383.0 534.5,381.0 536.5,403.0 526.5,406.0" fill="#9b9b9b" />
<polygon points="529.5,404.0 543.5,401.0 545.5,404.0 531.5,407.0" fill="#8c8c8c" />
<path d="M 535.5,407.0 v 9 m -7,3 l 7,-3 l 7,3 m -7,-3 l -3,5 m 3,-5 l 4,4" stroke="#8a8a8a" stroke-width="1.3" fill="none"/>
</g>
<polygon points="342.0,414.9 342.0,319.9 385.0,341.2 395.0,363.1 453.0,393.9 453.0,469.9" fill="#f1f2f2" />
<polygon points="335.0,418.4 335.0,323.4 342.0,319.9 342.0,414.9" fill="#f1f2f2" />
<polygon points="335.0,323.4 378.0,344.7 385.0,341.2 342.0,319.9" fill="#f1f2f2" />
<polygon points="378.0,344.7 388.0,366.6 395.0,363.1 385.0,341.2" fill="#f1f2f2" />
<polygon points="388.0,366.6 446.0,397.3 453.0,393.9 395.0,363.1" fill="#f1f2f2" />
<polygon points="446.0,397.3 446.0,473.3 453.0,469.9 453.0,393.9" fill="#f1f2f2" />
<polygon points="446.0,473.3 335.0,418.4 342.0,414.9 453.0,469.9" fill="#f1f2f2" />
<polygon points="335.0,418.4 335.0,323.4 378.0,344.7 388.0,366.6 446.0,397.3 446.0,473.3" fill="#bec9ce" />
<polygon points="390.0,373.6 412.0,384.5 412.0,404.5 390.0,393.6" fill="#eef0f0" stroke="#b0b8bb" stroke-width="0.8"/>
<polygon points="416.0,388.5 444.0,402.4 444.0,442.4 416.0,428.5" fill="#aebfc5" />
<polygon points="332.0,349.0 346.0,342.0 388.0,363.0 374.0,370.0" fill="#f4f4f4" />
<polygon points="332.0,349.0 374.0,370.0 374.0,444.0 332.0,423.0" fill="#ececec" />
<polygon points="374.0,370.0 388.0,363.0 388.0,437.0 374.0,444.0" fill="#dcdcdc" />
<polygon points="337.0,360.0 342.0,362.5 342.0,374.0 337.0,371.5" fill="#c9ced6" />
<polygon points="344.5,363.7 349.5,366.2 349.5,377.7 344.5,375.2" fill="#b6c0c8" />
<polygon points="352.0,367.4 357.0,369.9 357.0,381.4 352.0,378.9" fill="#d8c8cb" />
<polygon points="359.5,371.1 364.5,373.6 364.5,385.1 359.5,382.6" fill="#a9b6be" />
<polygon points="367.0,374.8 372.0,377.3 372.0,388.8 367.0,386.3" fill="#cfd3d6" />
<polygon points="337.0,379.0 342.0,381.5 342.0,393.0 337.0,390.5" fill="#b6c0c8" />
<polygon points="344.5,382.7 349.5,385.2 349.5,396.7 344.5,394.2" fill="#d8c8cb" />
<polygon points="352.0,386.4 357.0,388.9 357.0,400.4 352.0,397.9" fill="#a9b6be" />
<polygon points="359.5,390.1 364.5,392.6 364.5,404.1 359.5,401.6" fill="#cfd3d6" />
<polygon points="367.0,393.8 372.0,396.3 372.0,407.8 367.0,405.3" fill="#c9ced6" />
<polygon points="337.0,398.0 342.0,400.5 342.0,412.0 337.0,409.5" fill="#d8c8cb" />
<polygon points="344.5,401.7 349.5,404.2 349.5,415.7 344.5,413.2" fill="#a9b6be" />
<polygon points="352.0,405.4 357.0,407.9 357.0,419.4 352.0,416.9" fill="#cfd3d6" />
<polygon points="359.5,409.1 364.5,411.6 364.5,423.1 359.5,420.6" fill="#c9ced6" />
<polygon points="367.0,412.8 372.0,415.3 372.0,426.8 367.0,424.3" fill="#b6c0c8" />
<polygon points="337.0,417.0 342.0,419.5 342.0,431.0 337.0,428.5" fill="#a9b6be" />
<polygon points="344.5,420.7 349.5,423.2 349.5,434.7 344.5,432.2" fill="#cfd3d6" />
<polygon points="352.0,424.4 357.0,426.9 357.0,438.4 352.0,435.9" fill="#c9ced6" />
<polygon points="359.5,428.1 364.5,430.6 364.5,442.1 359.5,439.6" fill="#b6c0c8" />
<polygon points="367.0,431.8 372.0,434.3 372.0,445.8 367.0,443.3" fill="#d8c8cb" />
<polygon points="392.8,447.8 409.2,447.8 407.5,458.0 394.5,458.0" fill="#9fb4ba" />
<polygon points="392.8,447.8 409.2,447.8 407.8,449.8 394.2,449.8" fill="#7d6b60" />
<ellipse cx="392.5" cy="435.9" rx="6.8" ry="4.1" fill="#94ab9e"/>
<ellipse cx="408.5" cy="434.2" rx="7.5" ry="4.1" fill="#8aa497"/>
<ellipse cx="401.0" cy="429.1" rx="6.1" ry="4.1" fill="#9db3a6"/>
<ellipse cx="397.6" cy="441.0" rx="8.5" ry="3.4" fill="#7f998b"/>
<ellipse cx="411.2" cy="441.0" rx="5.1" ry="3.1" fill="#7b9588"/>
<path d="M 401.0,441.0 v 6.8" stroke="#6f6f6f" stroke-width="1"/>
<polygon points="359.5,510.6 372.5,510.6 371.2,525.0 360.8,525.0" fill="#ffffff" stroke="#e0e0e0" stroke-width="0.6"/>
<path d="M 366.0,510.6 Q 363.4,497.3 357.4,495.2" stroke="#8aa79a" stroke-width="1.6" fill="none" stroke-linecap="round"/>
<path d="M 366.0,510.6 Q 364.6,497.3 361.2,488.2" stroke="#8aa79a" stroke-width="1.6" fill="none" stroke-linecap="round"/>
<path d="M 366.0,510.6 Q 365.7,497.3 365.1,487.0" stroke="#8aa79a" stroke-width="1.6" fill="none" stroke-linecap="round"/>
<path d="M 366.0,510.6 Q 367.1,497.3 369.8,488.9" stroke="#8aa79a" stroke-width="1.6" fill="none" stroke-linecap="round"/>
<path d="M 366.0,510.6 Q 368.3,497.3 373.6,494.1" stroke="#8aa79a" stroke-width="1.6" fill="none" stroke-linecap="round"/>
<path d="M 366.0,510.6 Q 363.1,497.3 356.5,498.8" stroke="#8aa79a" stroke-width="1.6" fill="none" stroke-linecap="round"/>
<path d="M 366.0,510.6 Q 368.9,497.3 375.5,498.8" stroke="#8aa79a" stroke-width="1.6" fill="none" stroke-linecap="round"/>
<circle cx="321" cy="401.5" r="42" fill="#c3c3c3"/>
<path d="M 302,383 Q 322,376 344.5,380 Q 345,400 342,419 Q 318,424 296,414 Q 299,398 302,383 Z" fill="#ffffff"/>
<path d="M 297,414 Q 319,423 342,419" stroke="#dcdcdc" stroke-width="1" fill="none"/>
<path d="M 313.2,370 A 9 9 0 0 1 329.8,370" fill="none" stroke="#fff" stroke-width="2.2" stroke-linecap="round"/>
<path d="M 317.2,373.5 A 5 5 0 0 1 325.8,373.5" fill="none" stroke="#fff" stroke-width="2" stroke-linecap="round"/>
<path d="M 319.5,375 L 323.5,375 L 321.5,377.8 Z" fill="#fff"/>
<text x="319.5" y="430.8" text-anchor="middle" font-family="Liberation Sans, sans-serif" font-size="7.8" fill="#ffffff">Access Point</text>
<text x="321" y="401" text-anchor="middle" font-family="Liberation Sans, sans-serif" font-size="3.5" fill="#b8c8d0">tp-link</text>
<ellipse cx="470" cy="510" rx="22" ry="8" fill="#e2e4e5"/>
<polygon points="445.0,486.0 468.0,474.0 511.0,492.0 488.0,504.0" fill="#bcd0d7" />
<polygon points="445.0,486.0 488.0,504.0 488.0,512.0 445.0,494.0" fill="#a6bcc4" />
<polygon points="488.0,504.0 511.0,492.0 511.0,500.0 488.0,512.0" fill="#b2c6cd" />
<polygon points="460.0,463.0 470.0,458.0 478.0,480.0 468.0,486.0" fill="#a9c2cb" />
<polygon points="478.0,476.0 500.0,473.0 511.0,484.0 511.0,492.0" fill="#b3c9d1" />
<polygon points="467.0,466.0 477.0,463.0 479.0,489.0 468.0,492.0" fill="#f4f4f4" />
<ellipse cx="472" cy="461" rx="4" ry="4.5" fill="#efe3da"/>
<path d="M 468,462 q 4,-7 8,0 l 0,10 l -2,-6 l -4,0 z" fill="#4a3a36"/>
<polygon points="457.0,489.0 472.0,484.0 472.0,500.0 459.0,506.0" fill="#8ba3aa" />
<polygon points="481.0,467.0 494.0,464.0 496.0,497.0 483.0,500.0" fill="#f1f1f1" />
<ellipse cx="486" cy="462" rx="4.2" ry="4.6" fill="#efe3da"/>
<path d="M 481.8,462 a 4.2 4.2 0 0 1 8.4,0 z" fill="#8a8a8a"/>
<polygon points="472.0,494.0 490.0,491.0 486.0,512.0 478.0,512.0" fill="#6e6e6e" />
<polygon points="463.0,486.0 475.0,481.0 482.0,486.0 470.0,491.0" fill="#5a5a5a" />
<polygon points="441.0,495.0 456.0,488.0 474.0,497.0 459.0,505.0" fill="#d4e2e6" opacity="0.85"/>
<g opacity="0.78">
<polygon points="397.5,501.7 406.8,501.7 406.5,531.0 402.8,531.0 402.2,508.8 401.4,531.0 397.8,531.0" fill="#6c6c6c" />
<polygon points="396.0,479.9 398.4,478.9 405.6,478.9 408.0,479.9 407.7,503.7 396.3,503.7" fill="#f1f1f1" />
<polygon points="400.4,478.9 403.6,478.9 402.0,488.0" fill="#f1f1f1" />
<polygon points="397.8,530.5 407.4,530.5 407.4,532.0 397.8,532.0" fill="#3e3e3e" />
<ellipse cx="402.0" cy="475.0" rx="3.3" ry="3.7" fill="#efe3da"/>
<path d="M 398.5,474.7 a 3.5 3.7 0 0 1 7.0,0 l 0,1.9 l -1.5,-2.2 z" fill="#5a4a44"/>
</g>
<g opacity="0.78">
<polygon points="424.5,501.1 433.8,501.1 433.5,528.0 429.8,528.0 429.2,507.7 428.4,528.0 424.8,528.0" fill="#5f5f5f" />
<polygon points="423.0,481.9 425.4,480.9 432.6,480.9 435.0,481.9 434.7,503.1 423.3,503.1" fill="#616161" />
<polygon points="427.4,480.9 430.6,480.9 429.0,489.3" fill="#f3f3f3" />
<polygon points="424.8,527.5 434.4,527.5 434.4,529.0 424.8,529.0" fill="#3e3e3e" />
<ellipse cx="429.0" cy="477.0" rx="3.3" ry="3.7" fill="#efe3da"/>
<path d="M 425.5,476.7 a 3.5 3.7 0 0 1 7.0,0 l 0,1.9 l -1.5,-2.2 z" fill="#55453f"/>
</g>
<polygon points="606.0,449.0 616.0,444.0 627.0,450.0 627.0,463.0 617.0,468.0 606.0,462.0" fill="#e0e0e0" />
<polygon points="607.0,432.0 617.0,427.0 624.0,431.0 624.0,447.0 614.0,452.0 607.0,448.0" fill="#5f5f5f" />
<polygon points="607.0,432.0 617.0,427.0 624.0,431.0 614.0,436.0" fill="#7a7a7a" />
<ellipse cx="630" cy="420" rx="6" ry="9" fill="#cfe0e6"/>
<polygon points="649.0,405.0 664.0,398.0 676.0,404.0 676.0,432.0 661.0,439.0 649.0,433.0" fill="#bdbdbd" />
<polygon points="649.0,405.0 664.0,398.0 676.0,404.0 661.0,411.0" fill="#dfe6e8" />
<polygon points="638.5,438.9 651.5,438.9 650.1,447.0 639.9,447.0" fill="#a0b5bb" />
<polygon points="638.5,438.9 651.5,438.9 650.4,440.5 639.6,440.5" fill="#7d6b60" />
<ellipse cx="638.2" cy="429.4" rx="5.4" ry="3.2" fill="#94ab9e"/>
<ellipse cx="650.9" cy="428.1" rx="5.9" ry="3.2" fill="#8aa497"/>
<ellipse cx="645.0" cy="424.1" rx="4.9" ry="3.2" fill="#9db3a6"/>
<ellipse cx="642.3" cy="433.5" rx="6.8" ry="2.7" fill="#7f998b"/>
<ellipse cx="653.1" cy="433.5" rx="4.0" ry="2.4" fill="#7b9588"/>
<path d="M 645.0,433.5 v 5.4" stroke="#6f6f6f" stroke-width="1"/>
<g opacity="0.78">
<polygon points="629.5,441.6 638.8,441.6 638.5,467.0 634.8,467.0 634.2,447.9 633.4,467.0 629.8,467.0" fill="#5a5a5a" />
<polygon points="628.0,423.9 630.4,422.9 637.6,422.9 640.0,423.9 639.7,443.6 628.3,443.6" fill="#535353" />
<polygon points="632.4,422.9 635.6,422.9 634.0,430.8" fill="#f3f3f3" />
<polygon points="629.8,466.5 639.4,466.5 639.4,468.0 629.8,468.0" fill="#3e3e3e" />
<ellipse cx="634.0" cy="419.0" rx="3.3" ry="3.7" fill="#efe3da"/>
<path d="M 630.5,418.7 a 3.5 3.7 0 0 1 7.0,0 l 0,1.9 l -1.5,-2.2 z" fill="#4b4b4b"/>
</g>
<g opacity="0.78">
<polygon points="650.5,447.1 659.8,447.1 659.5,473.0 655.8,473.0 655.2,453.5 654.4,473.0 650.8,473.0" fill="#5a5a5a" />
<polygon points="649.0,428.9 651.4,427.9 658.6,427.9 661.0,428.9 660.7,449.1 649.3,449.1" fill="#535353" />
<polygon points="653.4,427.9 656.6,427.9 655.0,436.0" fill="#f3f3f3" />
<polygon points="650.8,472.5 660.4,472.5 660.4,474.0 650.8,474.0" fill="#3e3e3e" />
<ellipse cx="655.0" cy="424.0" rx="3.3" ry="3.7" fill="#efe3da"/>
<path d="M 651.5,423.7 a 3.5 3.7 0 0 1 7.0,0 l 0,1.9 l -1.5,-2.2 z" fill="#4b4b4b"/>
</g>
<g opacity="0.78">
<polygon points="628.5,478.1 633.5,478.1 632.8,503.0 629.2,503.0" fill="#e9dcd3" />
<polygon points="626.2,457.9 635.8,457.9 637.6,484.6 624.4,484.6" fill="#6a6a6a" />
<polygon points="626.8,502.5 636.4,502.5 636.4,504.0 626.8,504.0" fill="#3e3e3e" />
<ellipse cx="631.0" cy="454.0" rx="3.3" ry="3.7" fill="#efe3da"/>
<path d="M 627.5,453.7 a 3.5 3.7 0 0 1 7.0,0 l 0,1.9 l -1.5,-2.2 z" fill="#d9c6b5"/>
</g>
<g opacity="0.78">
<polygon points="676.6,415.3 683.6,415.3 683.4,434.0 680.8,434.0 680.2,420.2 679.4,434.0 676.8,434.0" fill="#606060" />
<polygon points="675.5,404.0 677.3,403.0 682.7,403.0 684.5,404.0 684.3,417.3 675.7,417.3" fill="#6a6a6a" />
<polygon points="678.4,403.0 681.6,403.0 680.0,408.9" fill="#f3f3f3" />
<polygon points="676.8,433.5 684.1,433.5 684.1,435.0 676.8,435.0" fill="#3e3e3e" />
<ellipse cx="680.0" cy="399.6" rx="2.9" ry="3.3" fill="#efe3da"/>
<path d="M 676.9,399.3 a 3.1 3.3 0 0 1 6.2,0 l 0,1.6 l -1.3,-2.0 z" fill="#4b4b4b"/>
</g>
<polygon points="697.3,410.4 712.7,410.4 711.1,420.0 698.9,420.0" fill="#a0b5bb" />
<polygon points="697.3,410.4 712.7,410.4 711.4,412.3 698.6,412.3" fill="#7d6b60" />
<ellipse cx="697.0" cy="399.2" rx="6.4" ry="3.8" fill="#94ab9e"/>
<ellipse cx="712.0" cy="397.6" rx="7.0" ry="3.8" fill="#8aa497"/>
<ellipse cx="705.0" cy="392.8" rx="5.8" ry="3.8" fill="#9db3a6"/>
<ellipse cx="701.8" cy="404.0" rx="8.0" ry="3.2" fill="#7f998b"/>
<ellipse cx="714.6" cy="404.0" rx="4.8" ry="2.9" fill="#7b9588"/>
<path d="M 705.0,404.0 v 6.4" stroke="#6f6f6f" stroke-width="1"/>
<g opacity="0.78">
<polygon points="699.1,415.4 707.2,415.4 706.9,437.0 703.8,437.0 703.2,420.9 702.4,437.0 699.4,437.0" fill="#6a6a6a" />
<polygon points="697.8,401.9 699.9,400.9 706.1,400.9 708.2,401.9 707.9,417.4 698.1,417.4" fill="#f0f0f0" />
<polygon points="701.4,400.9 704.6,400.9 703.0,407.6" fill="#f0f0f0" />
<polygon points="699.4,436.5 707.7,436.5 707.7,438.0 699.4,438.0" fill="#3e3e3e" />
<ellipse cx="703.0" cy="397.0" rx="3.3" ry="3.7" fill="#efe3da"/>
<path d="M 699.5,396.7 a 3.5 3.7 0 0 1 7.0,0 l 0,1.9 l -1.5,-2.2 z" fill="#4b4b4b"/>
</g>
<polygon points="772.0,496.0 792.0,486.0 792.0,504.0 772.0,514.0" fill="#a9a9a9" />
<polygon points="728.0,474.0 730.0,475.0 730.0,492.0 728.0,491.0" fill="#b5b5b5" />
<polygon points="748.0,464.0 792.0,486.0 772.0,496.0 728.0,474.0" fill="#e7e7e7" />
<polygon points="728.0,474.0 772.0,496.0 772.0,498.0 728.0,476.0" fill="#c8c8c8" />
<polygon points="748.0,464.0 792.0,486.0 792.0,471.0 748.0,449.0" fill="#f7f7f7" stroke="#9a9a9a" stroke-width="1"/>
<polygon points="760.0,468.0 770.0,473.0 770.0,463.0 760.0,458.0" fill="#dedede" />
<polygon points="782.0,480.0 786.0,482.0 786.0,487.0 782.0,485.0" fill="#9fb6bd" />
<circle cx="778.0" cy="483.0" r="2.6" fill="#8ea597" />
<g opacity="0.82">
<polygon points="746.0,490.0 758.0,492.0 760.0,501.0 756.0,502.0 754.0,495.0 746.0,495.0" fill="#6a6a6a" />
<polygon points="755.0,501.0 762.0,501.0 762.0,503.0 755.0,503.0" fill="#444" />
<polygon points="737.0,476.0 749.0,475.0 751.0,492.0 738.0,493.0" fill="#444" />
<circle cx="743.0" cy="471.5" r="4.2" fill="#4a4a4a" />
<polygon points="733.0,482.0 743.0,480.0 745.0,502.0 735.0,505.0" fill="#9b9b9b" />
<polygon points="738.0,503.0 752.0,500.0 754.0,503.0 740.0,506.0" fill="#8c8c8c" />
<path d="M 744.0,506.0 v 9 m -7,3 l 7,-3 l 7,3 m -7,-3 l -3,5 m 3,-5 l 4,4" stroke="#8a8a8a" stroke-width="1.3" fill="none"/>
</g>
<polygon points="710.0,530.0 730.0,520.0 730.0,538.0 710.0,548.0" fill="#a9a9a9" />
<polygon points="670.0,510.0 672.0,511.0 672.0,528.0 670.0,527.0" fill="#b5b5b5" />
<polygon points="690.0,500.0 730.0,520.0 710.0,530.0 670.0,510.0" fill="#e7e7e7" />
<polygon points="670.0,510.0 710.0,530.0 710.0,532.0 670.0,512.0" fill="#c8c8c8" />
<polygon points="690.0,500.0 730.0,520.0 730.0,505.0 690.0,485.0" fill="#f7f7f7" stroke="#9a9a9a" stroke-width="1"/>
<polygon points="702.0,504.0 712.0,509.0 712.0,499.0 702.0,494.0" fill="#dedede" />
<polygon points="720.0,514.0 724.0,516.0 724.0,521.0 720.0,519.0" fill="#9fb6bd" />
<circle cx="716.0" cy="517.0" r="2.6" fill="#8ea597" />
<g opacity="0.82">
<polygon points="688.0,526.0 700.0,528.0 702.0,537.0 698.0,538.0 696.0,531.0 688.0,531.0" fill="#e0d0c6" />
<polygon points="697.0,537.0 704.0,537.0 704.0,539.0 697.0,539.0" fill="#444" />
<polygon points="679.0,512.0 691.0,511.0 693.0,528.0 680.0,529.0" fill="#a9bcc2" />
<circle cx="685.0" cy="507.5" r="4.2" fill="#7a5f52" />
<polygon points="675.0,518.0 685.0,516.0 687.0,538.0 677.0,541.0" fill="#9b9b9b" />
<polygon points="680.0,539.0 694.0,536.0 696.0,539.0 682.0,542.0" fill="#8c8c8c" />
<path d="M 686.0,542.0 v 9 m -7,3 l 7,-3 l 7,3 m -7,-3 l -3,5 m 3,-5 l 4,4" stroke="#8a8a8a" stroke-width="1.3" fill="none"/>
</g>
<polygon points="814.0,479.0 834.0,469.0 834.0,487.0 814.0,497.0" fill="#a9a9a9" />
<polygon points="780.0,462.0 782.0,463.0 782.0,480.0 780.0,479.0" fill="#b5b5b5" />
<polygon points="800.0,452.0 834.0,469.0 814.0,479.0 780.0,462.0" fill="#e7e7e7" />
<polygon points="780.0,462.0 814.0,479.0 814.0,481.0 780.0,464.0" fill="#c8c8c8" />
<polygon points="800.0,452.0 834.0,469.0 834.0,454.0 800.0,437.0" fill="#f7f7f7" stroke="#9a9a9a" stroke-width="1"/>
<polygon points="812.0,456.0 822.0,461.0 822.0,451.0 812.0,446.0" fill="#dedede" />
<polygon points="824.0,463.0 828.0,465.0 828.0,470.0 824.0,468.0" fill="#9fb6bd" />
<circle cx="820.0" cy="466.0" r="2.6" fill="#8ea597" />
<g opacity="0.82">
<polygon points="798.0,478.0 810.0,480.0 812.0,489.0 808.0,490.0 806.0,483.0 798.0,483.0" fill="#8a8a8a" />
<polygon points="807.0,489.0 814.0,489.0 814.0,491.0 807.0,491.0" fill="#444" />
<polygon points="789.0,464.0 801.0,463.0 803.0,480.0 790.0,481.0" fill="#f2f2f2" />
<circle cx="795.0" cy="459.5" r="4.2" fill="#555555" />
<polygon points="785.0,470.0 795.0,468.0 797.0,490.0 787.0,493.0" fill="#9b9b9b" />
<polygon points="790.0,491.0 804.0,488.0 806.0,491.0 792.0,494.0" fill="#8c8c8c" />
<path d="M 796.0,494.0 v 9 m -7,3 l 7,-3 l 7,3 m -7,-3 l -3,5 m 3,-5 l 4,4" stroke="#8a8a8a" stroke-width="1.3" fill="none"/>
</g>
<polygon points="646.8,528.0 661.2,528.0 659.7,537.0 648.3,537.0" fill="#9fb4ba" />
<polygon points="646.8,528.0 661.2,528.0 660.0,529.8 648.0,529.8" fill="#7d6b60" />
<ellipse cx="646.5" cy="517.5" rx="6.0" ry="3.6" fill="#94ab9e"/>
<ellipse cx="660.6" cy="516.0" rx="6.6" ry="3.6" fill="#8aa497"/>
<ellipse cx="654.0" cy="511.5" rx="5.4" ry="3.6" fill="#9db3a6"/>
<ellipse cx="651.0" cy="522.0" rx="7.5" ry="3.0" fill="#7f998b"/>
<ellipse cx="663.0" cy="522.0" rx="4.5" ry="2.7" fill="#7b9588"/>
<path d="M 654.0,522.0 v 6.0" stroke="#6f6f6f" stroke-width="1"/>
<polygon points="857.0,496.4 857.0,401.4 850.0,397.9 850.0,492.9" fill="#f1f2f2" />
<polygon points="857.0,401.4 853.0,403.4 846.0,399.9 850.0,397.9" fill="#f1f2f2" />
<polygon points="853.0,403.4 765.0,512.1 758.0,508.6 846.0,399.9" fill="#f1f2f2" />
<polygon points="765.0,512.1 763.0,516.1 756.0,512.6 758.0,508.6" fill="#f1f2f2" />
<polygon points="763.0,516.1 763.0,543.1 756.0,539.6 756.0,512.6" fill="#f1f2f2" />
<polygon points="763.0,543.1 857.0,496.4 850.0,492.9 756.0,539.6" fill="#f1f2f2" />
<polygon points="857.0,496.4 857.0,401.4 853.0,403.4 765.0,512.1 763.0,516.1 763.0,543.1" fill="#bec9ce" />
<polygon points="767.0,541.1 767.0,514.1 852.0,556.2 852.0,583.2" fill="#f1f2f2" />
<polygon points="763.0,543.1 763.0,516.1 767.0,514.1 767.0,541.1" fill="#f1f2f2" />
<polygon points="763.0,516.1 848.0,558.2 852.0,556.2 767.0,514.1" fill="#f1f2f2" />
<polygon points="848.0,558.2 848.0,585.2 852.0,583.2 852.0,556.2" fill="#f1f2f2" />
<polygon points="848.0,585.2 763.0,543.1 767.0,541.1 852.0,583.2" fill="#f1f2f2" />
<polygon points="763.0,543.1 763.0,516.1 848.0,558.2 848.0,585.2" fill="#b5c3c8" />
<g opacity="0.78">
<polygon points="742.5,564.8 751.8,564.8 751.5,595.0 747.8,595.0 747.2,572.1 746.4,595.0 742.8,595.0" fill="#555555" />
<polygon points="741.0,541.9 743.4,540.9 750.6,540.9 753.0,541.9 752.7,566.8 741.3,566.8" fill="#4f4f4f" />
<polygon points="745.4,540.9 748.6,540.9 747.0,550.4" fill="#f3f3f3" />
<polygon points="742.8,594.5 752.4,594.5 752.4,596.0 742.8,596.0" fill="#3e3e3e" />
<ellipse cx="747.0" cy="537.0" rx="3.3" ry="3.7" fill="#efe3da"/>
<path d="M 743.5,536.7 a 3.5 3.7 0 0 1 7.0,0 l 0,1.9 l -1.5,-2.2 z" fill="#4b4b4b"/>
</g>
<polygon points="736.0,568.0 745.0,568.0 745.0,578.0 736.0,578.0" fill="#3a3a3a" />
<polygon points="789.0,523.3 803.0,523.3 801.5,532.0 790.5,532.0" fill="#9fb4ba" />
<polygon points="789.0,523.3 803.0,523.3 801.8,525.0 790.2,525.0" fill="#7d6b60" />
<ellipse cx="788.8" cy="513.1" rx="5.8" ry="3.5" fill="#94ab9e"/>
<ellipse cx="802.4" cy="511.7" rx="6.4" ry="3.5" fill="#8aa497"/>
<ellipse cx="796.0" cy="507.4" rx="5.2" ry="3.5" fill="#9db3a6"/>
<ellipse cx="793.1" cy="517.5" rx="7.2" ry="2.9" fill="#7f998b"/>
<ellipse cx="804.7" cy="517.5" rx="4.3" ry="2.6" fill="#7b9588"/>
<path d="M 796.0,517.5 v 5.8" stroke="#6f6f6f" stroke-width="1"/>
<polygon points="804.0,502.0 822.0,493.0 838.0,501.0 820.0,510.0" fill="#e4e4e4" />
<polygon points="804.0,502.0 820.0,510.0 820.0,532.0 804.0,524.0" fill="#a9a9a9" />
<polygon points="808.0,498.0 818.0,493.0 826.0,497.0 816.0,502.0" fill="#9ecfd6" />
<polygon points="852.6,493.7 867.4,493.7 865.9,503.0 854.1,503.0" fill="#9fb4ba" />
<polygon points="852.6,493.7 867.4,493.7 866.2,495.6 853.8,495.6" fill="#7d6b60" />
<ellipse cx="852.2" cy="482.9" rx="6.2" ry="3.7" fill="#94ab9e"/>
<ellipse cx="866.8" cy="481.3" rx="6.8" ry="3.7" fill="#8aa497"/>
<ellipse cx="860.0" cy="476.6" rx="5.6" ry="3.7" fill="#9db3a6"/>
<ellipse cx="856.9" cy="487.5" rx="7.8" ry="3.1" fill="#7f998b"/>
<ellipse cx="869.3" cy="487.5" rx="4.6" ry="2.8" fill="#7b9588"/>
<path d="M 860.0,487.5 v 6.2" stroke="#6f6f6f" stroke-width="1"/>
<g opacity="0.78">
<polygon points="837.5,505.2 846.8,505.2 846.5,535.0 842.8,535.0 842.2,512.4 841.4,535.0 837.8,535.0" fill="#5d5d5d" />
<polygon points="836.0,482.9 838.4,481.9 845.6,481.9 848.0,482.9 847.7,507.2 836.3,507.2" fill="#7d8b96" />
<polygon points="840.4,481.9 843.6,481.9 842.0,491.2" fill="#7d8b96" />
<polygon points="837.8,534.5 847.4,534.5 847.4,536.0 837.8,536.0" fill="#3e3e3e" />
<ellipse cx="842.0" cy="478.0" rx="3.3" ry="3.7" fill="#efe3da"/>
<path d="M 838.5,477.7 a 3.5 3.7 0 0 1 7.0,0 l 0,1.9 l -1.5,-2.2 z" fill="#4b4b4b"/>
</g>
<polygon points="905.0,510.0 925.0,500.0 925.0,518.0 905.0,528.0" fill="#a9a9a9" />
<polygon points="865.0,490.0 867.0,491.0 867.0,508.0 865.0,507.0" fill="#b5b5b5" />
<polygon points="885.0,480.0 925.0,500.0 905.0,510.0 865.0,490.0" fill="#e7e7e7" />
<polygon points="865.0,490.0 905.0,510.0 905.0,512.0 865.0,492.0" fill="#c8c8c8" />
<polygon points="885.0,480.0 925.0,500.0 925.0,485.0 885.0,465.0" fill="#f7f7f7" stroke="#9a9a9a" stroke-width="1"/>
<polygon points="897.0,484.0 907.0,489.0 907.0,479.0 897.0,474.0" fill="#dedede" />
<polygon points="915.0,494.0 919.0,496.0 919.0,501.0 915.0,499.0" fill="#9fb6bd" />
<circle cx="911.0" cy="497.0" r="2.6" fill="#8ea597" />
<g opacity="0.82">
<polygon points="883.0,506.0 895.0,508.0 897.0,517.0 893.0,518.0 891.0,511.0 883.0,511.0" fill="#8a8a8a" />
<polygon points="892.0,517.0 899.0,517.0 899.0,519.0 892.0,519.0" fill="#444" />
<polygon points="874.0,492.0 886.0,491.0 888.0,508.0 875.0,509.0" fill="#f2f2f2" />
<circle cx="880.0" cy="487.5" r="4.2" fill="#555555" />
<polygon points="870.0,498.0 880.0,496.0 882.0,518.0 872.0,521.0" fill="#9b9b9b" />
<polygon points="875.0,519.0 889.0,516.0 891.0,519.0 877.0,522.0" fill="#8c8c8c" />
<path d="M 881.0,522.0 v 9 m -7,3 l 7,-3 l 7,3 m -7,-3 l -3,5 m 3,-5 l 4,4" stroke="#8a8a8a" stroke-width="1.3" fill="none"/>
</g>
<polygon points="420.0,658.0 515.0,610.0 600.0,652.0 505.0,702.0" fill="#e1e1e2" />
<polygon points="501.9,619.2 571.9,654.2 573.9,661.2 503.9,626.2" fill="#d2d2d2" />
<circle cx="507.9" cy="599.7" r="3.0" fill="#efe3da" />
<path d="M 504.7,599.7 a 3.2 3.2 0 0 1 6.4,0 v 1.5 h -6.4 z" fill="#b09a85"/>
<polygon points="503.4,603.2 511.9,603.2 512.4,610.2 503.4,610.2" fill="#f2f2f2" />
<circle cx="519.4" cy="605.5" r="3.0" fill="#efe3da" />
<path d="M 516.2,605.5 a 3.2 3.2 0 0 1 6.4,0 v 1.5 h -6.4 z" fill="#555555"/>
<polygon points="514.9,609.0 523.4,609.0 523.9,616.0 514.9,616.0" fill="#e8e8e8" />
<circle cx="530.9" cy="611.2" r="3.0" fill="#efe3da" />
<path d="M 527.7,611.2 a 3.2 3.2 0 0 1 6.4,0 v 1.5 h -6.4 z" fill="#6b5548"/>
<polygon points="526.4,614.7 534.9,614.7 535.4,621.7 526.4,621.7" fill="#505050" />
<circle cx="542.4" cy="617.0" r="3.0" fill="#efe3da" />
<path d="M 539.2,617.0 a 3.2 3.2 0 0 1 6.4,0 v 1.5 h -6.4 z" fill="#5a4a44"/>
<polygon points="537.9,620.5 546.4,620.5 546.9,627.5 537.9,627.5" fill="#f0f0f0" />
<circle cx="553.9" cy="622.7" r="3.0" fill="#efe3da" />
<path d="M 550.7,622.7 a 3.2 3.2 0 0 1 6.4,0 v 1.5 h -6.4 z" fill="#8a7060"/>
<polygon points="549.4,626.2 557.9,626.2 558.4,633.2 549.4,633.2" fill="#c9a0a0" />
<circle cx="565.4" cy="628.5" r="3.0" fill="#efe3da" />
<path d="M 562.2,628.5 a 3.2 3.2 0 0 1 6.4,0 v 1.5 h -6.4 z" fill="#3f3f3f"/>
<polygon points="560.9,632.0 569.4,632.0 569.9,639.0 560.9,639.0" fill="#f2f2f2" />
<polygon points="499.9,608.2 569.9,643.2 569.9,653.2 499.9,618.2" fill="#a2a2a2" />
<line x1="511.6" y1="614.1" x2="511.6" y2="624.1" stroke="#c4c4c4" stroke-width="0.8"/>
<line x1="523.3" y1="619.9" x2="523.3" y2="629.9" stroke="#c4c4c4" stroke-width="0.8"/>
<line x1="535.0" y1="625.8" x2="535.0" y2="635.8" stroke="#c4c4c4" stroke-width="0.8"/>
<line x1="546.7" y1="631.6" x2="546.7" y2="641.6" stroke="#c4c4c4" stroke-width="0.8"/>
<line x1="558.4" y1="637.5" x2="558.4" y2="647.5" stroke="#c4c4c4" stroke-width="0.8"/>
<polygon points="499.9,618.2 569.9,653.2 569.9,655.2 499.9,620.2" fill="#8f8f8f" />
<polygon points="477.6,631.8 547.6,666.8 549.6,673.8 479.6,638.8" fill="#d2d2d2" />
<circle cx="483.6" cy="612.3" r="3.0" fill="#efe3da" />
<path d="M 480.4,612.3 a 3.2 3.2 0 0 1 6.4,0 v 1.5 h -6.4 z" fill="#5a4a44"/>
<polygon points="479.1,615.8 487.6,615.8 488.1,622.8 479.1,622.8" fill="#c9a0a0" />
<circle cx="495.1" cy="618.0" r="3.0" fill="#efe3da" />
<path d="M 491.9,618.0 a 3.2 3.2 0 0 1 6.4,0 v 1.5 h -6.4 z" fill="#8a7060"/>
<polygon points="490.6,621.5 499.1,621.5 499.6,628.5 490.6,628.5" fill="#f2f2f2" />
<circle cx="506.6" cy="623.8" r="3.0" fill="#efe3da" />
<path d="M 503.4,623.8 a 3.2 3.2 0 0 1 6.4,0 v 1.5 h -6.4 z" fill="#3f3f3f"/>
<polygon points="502.1,627.3 510.6,627.3 511.1,634.3 502.1,634.3" fill="#f2f2f2" />
<circle cx="518.1" cy="629.5" r="3.0" fill="#efe3da" />
<path d="M 514.9,629.5 a 3.2 3.2 0 0 1 6.4,0 v 1.5 h -6.4 z" fill="#b09a85"/>
<polygon points="513.6,633.0 522.1,633.0 522.6,640.0 513.6,640.0" fill="#e8e8e8" />
<circle cx="529.6" cy="635.3" r="3.0" fill="#efe3da" />
<path d="M 526.4,635.3 a 3.2 3.2 0 0 1 6.4,0 v 1.5 h -6.4 z" fill="#555555"/>
<polygon points="525.1,638.8 533.6,638.8 534.1,645.8 525.1,645.8" fill="#505050" />
<circle cx="541.1" cy="641.0" r="3.0" fill="#efe3da" />
<path d="M 537.9,641.0 a 3.2 3.2 0 0 1 6.4,0 v 1.5 h -6.4 z" fill="#6b5548"/>
<polygon points="536.6,644.5 545.1,644.5 545.6,651.5 536.6,651.5" fill="#f0f0f0" />
<polygon points="475.6,620.8 545.6,655.8 545.6,665.8 475.6,630.8" fill="#a2a2a2" />
<line x1="487.3" y1="626.6" x2="487.3" y2="636.6" stroke="#c4c4c4" stroke-width="0.8"/>
<line x1="499.0" y1="632.5" x2="499.0" y2="642.5" stroke="#c4c4c4" stroke-width="0.8"/>
<line x1="510.7" y1="638.3" x2="510.7" y2="648.3" stroke="#c4c4c4" stroke-width="0.8"/>
<line x1="522.4" y1="644.2" x2="522.4" y2="654.2" stroke="#c4c4c4" stroke-width="0.8"/>
<line x1="534.1" y1="650.0" x2="534.1" y2="660.0" stroke="#c4c4c4" stroke-width="0.8"/>
<polygon points="475.6,630.8 545.6,665.8 545.6,667.8 475.6,632.8" fill="#8f8f8f" />
<polygon points="453.3,644.4 523.3,679.4 525.3,686.4 455.3,651.4" fill="#d2d2d2" />
<circle cx="459.3" cy="624.9" r="3.0" fill="#efe3da" />
<path d="M 456.1,624.9 a 3.2 3.2 0 0 1 6.4,0 v 1.5 h -6.4 z" fill="#b09a85"/>
<polygon points="454.8,628.4 463.3,628.4 463.8,635.4 454.8,635.4" fill="#505050" />
<circle cx="470.8" cy="630.6" r="3.0" fill="#efe3da" />
<path d="M 467.6,630.6 a 3.2 3.2 0 0 1 6.4,0 v 1.5 h -6.4 z" fill="#555555"/>
<polygon points="466.3,634.1 474.8,634.1 475.3,641.1 466.3,641.1" fill="#f0f0f0" />
<circle cx="482.3" cy="636.4" r="3.0" fill="#efe3da" />
<path d="M 479.1,636.4 a 3.2 3.2 0 0 1 6.4,0 v 1.5 h -6.4 z" fill="#6b5548"/>
<polygon points="477.8,639.9 486.3,639.9 486.8,646.9 477.8,646.9" fill="#c9a0a0" />
<circle cx="493.8" cy="642.1" r="3.0" fill="#efe3da" />
<path d="M 490.6,642.1 a 3.2 3.2 0 0 1 6.4,0 v 1.5 h -6.4 z" fill="#5a4a44"/>
<polygon points="489.3,645.6 497.8,645.6 498.3,652.6 489.3,652.6" fill="#f2f2f2" />
<circle cx="505.3" cy="647.9" r="3.0" fill="#efe3da" />
<path d="M 502.1,647.9 a 3.2 3.2 0 0 1 6.4,0 v 1.5 h -6.4 z" fill="#8a7060"/>
<polygon points="500.8,651.4 509.3,651.4 509.8,658.4 500.8,658.4" fill="#f2f2f2" />
<circle cx="516.8" cy="653.6" r="3.0" fill="#efe3da" />
<path d="M 513.6,653.6 a 3.2 3.2 0 0 1 6.4,0 v 1.5 h -6.4 z" fill="#3f3f3f"/>
<polygon points="512.3,657.1 520.8,657.1 521.3,664.1 512.3,664.1" fill="#e8e8e8" />
<polygon points="451.3,633.4 521.3,668.4 521.3,678.4 451.3,643.4" fill="#a2a2a2" />
<line x1="463.0" y1="639.2" x2="463.0" y2="649.2" stroke="#c4c4c4" stroke-width="0.8"/>
<line x1="474.7" y1="645.1" x2="474.7" y2="655.1" stroke="#c4c4c4" stroke-width="0.8"/>
<line x1="486.4" y1="650.9" x2="486.4" y2="660.9" stroke="#c4c4c4" stroke-width="0.8"/>
<line x1="498.1" y1="656.8" x2="498.1" y2="666.8" stroke="#c4c4c4" stroke-width="0.8"/>
<line x1="509.8" y1="662.6" x2="509.8" y2="672.6" stroke="#c4c4c4" stroke-width="0.8"/>
<polygon points="451.3,643.4 521.3,678.4 521.3,680.4 451.3,645.4" fill="#8f8f8f" />
<polygon points="429.0,657.0 499.0,692.0 501.0,699.0 431.0,664.0" fill="#d2d2d2" />
<circle cx="435.0" cy="637.5" r="3.0" fill="#efe3da" />
<path d="M 431.8,637.5 a 3.2 3.2 0 0 1 6.4,0 v 1.5 h -6.4 z" fill="#5a4a44"/>
<polygon points="430.5,641.0 439.0,641.0 439.5,648.0 430.5,648.0" fill="#f2f2f2" />
<circle cx="446.5" cy="643.2" r="3.0" fill="#efe3da" />
<path d="M 443.3,643.2 a 3.2 3.2 0 0 1 6.4,0 v 1.5 h -6.4 z" fill="#8a7060"/>
<polygon points="442.0,646.8 450.5,646.8 451.0,653.8 442.0,653.8" fill="#e8e8e8" />
<circle cx="458.0" cy="649.0" r="3.0" fill="#efe3da" />
<path d="M 454.8,649.0 a 3.2 3.2 0 0 1 6.4,0 v 1.5 h -6.4 z" fill="#3f3f3f"/>
<polygon points="453.5,652.5 462.0,652.5 462.5,659.5 453.5,659.5" fill="#505050" />
<circle cx="469.5" cy="654.8" r="3.0" fill="#efe3da" />
<path d="M 466.3,654.8 a 3.2 3.2 0 0 1 6.4,0 v 1.5 h -6.4 z" fill="#b09a85"/>
<polygon points="465.0,658.2 473.5,658.2 474.0,665.2 465.0,665.2" fill="#f0f0f0" />
<circle cx="481.0" cy="660.5" r="3.0" fill="#efe3da" />
<path d="M 477.8,660.5 a 3.2 3.2 0 0 1 6.4,0 v 1.5 h -6.4 z" fill="#555555"/>
<polygon points="476.5,664.0 485.0,664.0 485.5,671.0 476.5,671.0" fill="#c9a0a0" />
<circle cx="492.5" cy="666.2" r="3.0" fill="#efe3da" />
<path d="M 489.3,666.2 a 3.2 3.2 0 0 1 6.4,0 v 1.5 h -6.4 z" fill="#6b5548"/>
<polygon points="488.0,669.8 496.5,669.8 497.0,676.8 488.0,676.8" fill="#f2f2f2" />
<polygon points="427.0,646.0 497.0,681.0 497.0,691.0 427.0,656.0" fill="#a2a2a2" />
<line x1="438.7" y1="651.9" x2="438.7" y2="661.9" stroke="#c4c4c4" stroke-width="0.8"/>
<line x1="450.4" y1="657.7" x2="450.4" y2="667.7" stroke="#c4c4c4" stroke-width="0.8"/>
<line x1="462.1" y1="663.5" x2="462.1" y2="673.5" stroke="#c4c4c4" stroke-width="0.8"/>
<line x1="473.8" y1="669.4" x2="473.8" y2="679.4" stroke="#c4c4c4" stroke-width="0.8"/>
<line x1="485.5" y1="675.2" x2="485.5" y2="685.2" stroke="#c4c4c4" stroke-width="0.8"/>
<polygon points="427.0,656.0 497.0,691.0 497.0,693.0 427.0,658.0" fill="#8f8f8f" />
<polygon points="540.0,585.0 552.0,579.0 563.0,585.0 551.0,591.0" fill="#f2f2f2" />
<polygon points="540.0,585.0 551.0,591.0 551.0,606.0 540.0,600.0" fill="#dcdcdc" />
<polygon points="551.0,591.0 563.0,585.0 563.0,600.0 551.0,606.0" fill="#c4c4c4" />
<g opacity="0.78">
<polygon points="552.2,583.9 560.1,583.9 559.8,605.0 556.8,605.0 556.2,589.3 555.4,605.0 552.4,605.0" fill="#6a6a6a" />
<polygon points="550.9,570.8 552.9,569.8 559.1,569.8 561.1,570.8 560.8,585.9 551.2,585.9" fill="#f2f2f2" />
<polygon points="554.4,569.8 557.6,569.8 556.0,576.4" fill="#f2f2f2" />
<polygon points="552.4,604.5 560.6,604.5 560.6,606.0 552.4,606.0" fill="#3e3e3e" />
<ellipse cx="556.0" cy="565.9" rx="3.3" ry="3.6" fill="#efe3da"/>
<path d="M 552.6,565.6 a 3.4 3.6 0 0 1 6.9,0 l 0,1.8 l -1.5,-2.2 z" fill="#4b4b4b"/>
</g>
<polygon points="589.0,628.0 628.0,609.0 652.0,621.0 613.0,640.0" fill="#e8e8e8" />
<polygon points="589.0,628.0 613.0,640.0 613.0,650.0 589.0,638.0" fill="#c3c3c3" />
<polygon points="613.0,640.0 652.0,621.0 652.0,648.0 613.0,658.0" fill="#b0b0b0" />
<polygon points="602.0,622.0 612.0,617.0 612.0,606.0 602.0,611.0" fill="#e0e0e0" stroke="#bdbdbd" stroke-width="0.8"/>
<g opacity="0.8">
<polygon points="654.7,604.8 649.2,602.6 648.1,624.6 654.7,626.8" fill="#9a9a9a" />
<polygon points="641.5,604.8 652.5,604.8 652.5,620.2 641.5,620.2" fill="#f0f0f0" />
<polygon points="643.7,616.9 633.8,619.1 633.8,623.5 643.7,622.4" fill="#666" />
<polygon points="655.8,622.4 640.4,622.4 640.4,625.7 655.8,625.7" fill="#9a9a9a" />
<path d="M 648.1,625.7 v 7.7 m -6.6,0 h 13.2" stroke="#8a8a8a" stroke-width="1.3" fill="none"/>
<circle cx="647.0" cy="599.7" r="3.7" fill="#efe3da" />
<path d="M 643.3,599.7 a 3.7 3.7 0 0 1 7.5,0 z" fill="#555"/>
</g>
<polygon points="573.0,520.0 610.0,502.0 610.0,545.0 573.0,563.0" fill="none" stroke="#c2c2c2" stroke-width="1.2"/>
<polygon points="642.0,541.0 654.0,547.0 654.0,592.0 642.0,586.0" fill="none" stroke="#c2c2c2" stroke-width="1.2"/>
<polyline points="54.0,551.0 54.0,456.0 517.0,226.0 949.0,440.0 949.0,535.0" fill="none" stroke="#b4b4b4" stroke-width="0.8"/>
</g>
<use href="#cam" x="588.4" y="267.4" width="70" height="70" transform="translate(-35 -35)"/>
<use href="#cam" x="472.8" y="353.0" width="70" height="70" transform="translate(-35 -35)"/>
<use href="#cam" x="746.0" y="348.5" width="70" height="70" transform="translate(-35 -35)"/>
<use href="#cam" x="888.0" y="421.0" width="70" height="70" transform="translate(-35 -35)"/>
<use href="#cam" x="688.0" y="462.5" width="70" height="70" transform="translate(-35 -35)"/>
<use href="#cam" x="189.5" y="500.5" width="70" height="70" transform="translate(-35 -35)"/>
<use href="#cam" x="326.0" y="577.0" width="70" height="70" transform="translate(-35 -35)"/>
<use href="#cam" x="612.5" y="561.5" width="70" height="70" transform="translate(-35 -35)"/>

<line x1="141" y1="818" x2="176" y2="818" stroke="#52bec8" stroke-width="2" stroke-dasharray="5 4"/>
<text x="187" y="822.5" font-family="Liberation Sans, sans-serif" font-size="15.5" fill="#222" textLength="126.5" lengthAdjust="spacingAndGlyphs">Wi-Fi Connection</text>
<line x1="347" y1="818" x2="380" y2="818" stroke="#52bec8" stroke-width="2"/>
<text x="389" y="822.5" font-family="Liberation Sans, sans-serif" font-size="15.5" fill="#222" textLength="134.5" lengthAdjust="spacingAndGlyphs">Wired Connection</text>
<!-- NVR -->
<rect x="143" y="872.5" width="125.5" height="33" rx="3.5" fill="#52bec8"/>
<rect x="149" y="879" width="113.5" height="20.5" fill="none" stroke="#fff" stroke-width="2.4"/>
<rect x="189" y="888" width="8" height="4" fill="#0e4f59"/>
<rect x="189" y="892.8" width="8" height="4" fill="#0e4f59"/>
<circle cx="200.5" cy="889.6" r="0.8" fill="#0e4f59"/><circle cx="200.5" cy="892.8" r="0.8" fill="#0e4f59"/><circle cx="200.5" cy="896" r="0.8" fill="#0e4f59"/>
<line x1="279" y1="889" x2="326" y2="889" stroke="#52bec8" stroke-width="2"/>
<!-- switch -->
<rect x="335" y="872.5" width="125.5" height="33" rx="3.5" fill="#52bec8"/>
<rect x="341" y="879" width="113.5" height="20.5" fill="none" stroke="#fff" stroke-width="2.4"/>
<circle cx="358.4" cy="889.4" r="1.5" fill="#0e4f59"/><circle cx="369.6" cy="889.4" r="1.5" fill="#0e4f59"/><circle cx="380.8" cy="889.4" r="1.5" fill="#0e4f59"/><circle cx="392.0" cy="889.4" r="1.5" fill="#0e4f59"/><circle cx="403.2" cy="889.4" r="1.5" fill="#0e4f59"/><circle cx="414.3" cy="889.4" r="1.5" fill="#0e4f59"/><circle cx="425.5" cy="889.4" r="1.5" fill="#0e4f59"/><circle cx="436.7" cy="889.4" r="1.5" fill="#0e4f59"/>
<line x1="473" y1="889" x2="524.5" y2="889" stroke="#52bec8" stroke-width="2"/>
<!-- AP -->
<path d="M 550.8,847.6 Q 586,836 622.3,845.4 Q 624,847 623.5,852 L 617,905 Q 575,912 538.7,901.5 Z" fill="#52bec8"/>
<path d="M 541,904 Q 578,915 617,907" fill="none" stroke="#fff" stroke-width="1.2"/>
<path d="M 545,907 Q 580,918 614,910 L 612,914 Q 578,920 548,910 Z" fill="#58bfca"/>
<text x="577" y="876.5" font-family="Liberation Sans, sans-serif" font-size="4" fill="#fff" text-anchor="middle">tp-link</text>
<line x1="645.5" y1="889" x2="716" y2="889" stroke="#52bec8" stroke-width="2" stroke-dasharray="4.5 4.8"/>
<!-- big camera -->
<g>
  <path d="M 743.8,853 Q 760,843 787.6,843.5 Q 818,844 828.4,855.8 Q 822,880 808,904.4 Q 795,921 780.4,921.2 Q 762,918 754.6,897.2 Q 748,875 743.8,853 Z" fill="#f3f3f3" stroke="#dcdcdc" stroke-width="0.6"/>
  <path d="M 744.5,856 Q 786,851 827.5,858.5" fill="none" stroke="#dedede" stroke-width="1"/>
  <ellipse cx="782.2" cy="893" rx="25.8" ry="28" fill="url(#recg)"/>
  <path d="M 803,900 L 812,898 L 808,906 L 801,908 Z" fill="#e6e6e6"/>
  <circle cx="777.7" cy="899.4" r="23" fill="#1c1c1c"/>
  <path d="M 755.8,895 L 763.6,894 L 763.6,905 L 756.5,906 Z" fill="#efefef"/>
  <path d="M 788.8,892.4 L 797.2,894 L 797.2,906.8 L 789.2,905 Z" fill="#ececec"/>
  <circle cx="776.8" cy="899.6" r="11.4" fill="#2a2a2a" stroke="#0c0c0c" stroke-width="2.2"/>
  <circle cx="776.5" cy="899.5" r="5.5" fill="#3f5a7e"/>
  <circle cx="774.5" cy="897.5" r="1.8" fill="#dfe8f0"/>
  <circle cx="810" cy="878" r="2" fill="#222"/>
  <path d="M 809,879 l 2,3 l 3,-1 m 1,0 l 5,1.5" fill="none" stroke="#222" stroke-width="1.4"/>
</g>
<text x="190" y="943" font-family="Liberation Sans, sans-serif" font-size="16" fill="#222" textLength="32" lengthAdjust="spacingAndGlyphs">NVR</text>
<text x="356" y="943" font-family="Liberation Sans, sans-serif" font-size="16" fill="#222" textLength="81.5" lengthAdjust="spacingAndGlyphs">PoE Switch</text>
<text x="530.5" y="943" font-family="Liberation Sans, sans-serif" font-size="16" fill="#222" textLength="96.5" lengthAdjust="spacingAndGlyphs">Access Point</text>
<text x="738.5" y="943" font-family="Liberation Sans, sans-serif" font-size="16" fill="#222" textLength="95" lengthAdjust="spacingAndGlyphs">VIGI C440-W</text>

</svg>
</body></html>
